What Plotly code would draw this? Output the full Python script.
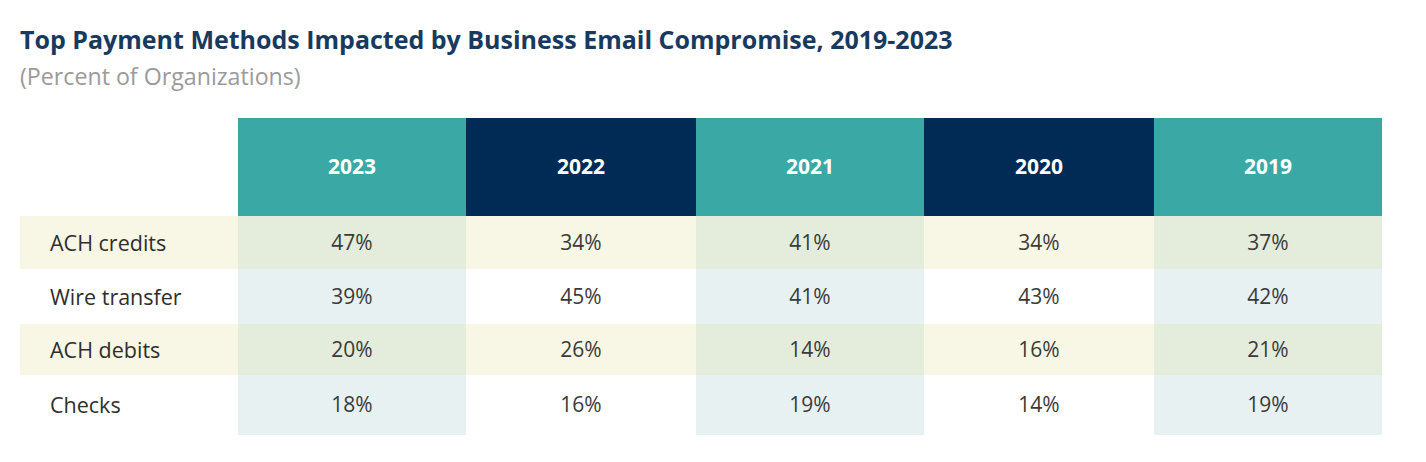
import plotly.graph_objects as go

# ---- data ----
years = ["2023", "2022", "2021", "2020", "2019"]
methods = ["ACH credits", "Wire transfer", "ACH debits", "Checks"]
pct_2023 = [47, 39, 20, 18]
pct_2022 = [34, 45, 26, 16]
pct_2021 = [41, 41, 14, 19]
pct_2020 = [34, 43, 16, 14]
pct_2019 = [37, 42, 21, 19]
series = [pct_2023, pct_2022, pct_2021, pct_2020, pct_2019]

# ---- layout constants (pixel units) ----
FW, FH = 1418, 454          # figure size (page has 8px body margin)
OFF = 8
col_widths = [218, 228, 230, 228, 230, 228]
row_heights = [98, 53, 55, 51, 60]
TABLE_LEFT, TABLE_TOP = 20, 118
LABEL_PAD = 30
LABEL_DY = 3

x_edges = [0]
for w in col_widths:
    x_edges.append(x_edges[-1] + w)
y_edges = [0]
for h in row_heights:
    y_edges.append(y_edges[-1] + h)
TW, TH = x_edges[-1], y_edges[-1]

# colours
palette = ["#FFFFFF", "#3AA8A4", "#012B55", "#F8F7E5", "#E4ECDB", "#E8F1F2"]
colorscale = [[k / (len(palette) - 1), c] for k, c in enumerate(palette)]
WHITE, TEAL, NAVY, YEL, YEL_T, WHT_T = range(6)
col_is_teal = [False, True, False, True, False, True]

header_z = [[WHITE] + [TEAL if col_is_teal[j + 1] else NAVY for j in range(len(years))]]
body_z = []
for i in range(len(methods)):
    row = []
    for j in range(len(col_widths)):
        if i % 2 == 0:
            row.append(YEL_T if col_is_teal[j] else YEL)
        else:
            row.append(WHT_T if col_is_teal[j] else WHITE)
    body_z.append(row)

header_text = [[""] + [f"<b>{y}</b>" for y in years]]
body_text = [[""] + [f"{s[i]}%" for s in series] for i in range(len(methods))]

fig = go.Figure()
fig.add_trace(go.Heatmap(
    x=x_edges, y=y_edges[:2], z=header_z, text=header_text, texttemplate="%{text}",
    textfont=dict(family="Open Sans", size=21, color="white"),
    colorscale=colorscale, zmin=0, zmax=len(palette) - 1, showscale=False, hoverinfo="skip",
))
fig.add_trace(go.Heatmap(
    x=x_edges, y=y_edges[1:], z=body_z, text=body_text, texttemplate="%{text}",
    textfont=dict(family="Open Sans", size=21, color="#3A3A3A"),
    colorscale=colorscale, zmin=0, zmax=len(palette) - 1, showscale=False, hoverinfo="skip",
))
row_centers = [(y_edges[i + 1] + y_edges[i + 2]) / 2 + LABEL_DY for i in range(len(methods))]
fig.add_trace(go.Scatter(
    x=[LABEL_PAD] * len(methods), y=row_centers, text=methods, mode="text",
    textposition="middle right", hoverinfo="skip",
    textfont=dict(family="Open Sans", size=21.5, color="#2E2E2E"),
))

fig.update_xaxes(range=[0, TW], domain=[(TABLE_LEFT - OFF) / FW, (TABLE_LEFT + TW - OFF) / FW],
                 visible=False, fixedrange=True)
fig.update_yaxes(range=[TH, 0], domain=[1 - (TABLE_TOP + TH - OFF) / FH, 1 - (TABLE_TOP - OFF) / FH],
                 visible=False, fixedrange=True)

fig.update_layout(
    width=FW, height=FH,
    margin=dict(l=0, r=0, t=0, b=0),
    paper_bgcolor="white", plot_bgcolor="white",
    showlegend=False,
    annotations=[
        dict(text="<b>Top Payment Methods Impacted by Business Email Compromise, 2019-2023</b>",
             x=(18 - OFF) / FW, y=1 - (39 - OFF) / FH, xref="paper", yref="paper",
             xanchor="left", yanchor="middle", showarrow=False,
             font=dict(family="Open Sans", size=25, color="#173A5E")),
        dict(text="(Percent of Organizations)",
             x=(18 - OFF) / FW, y=1 - (76 - OFF) / FH, xref="paper", yref="paper",
             xanchor="left", yanchor="middle", showarrow=False,
             font=dict(family="Open Sans", size=23.2, color="#9A9A9A")),
    ],
)

fig.write_html("out.html")
